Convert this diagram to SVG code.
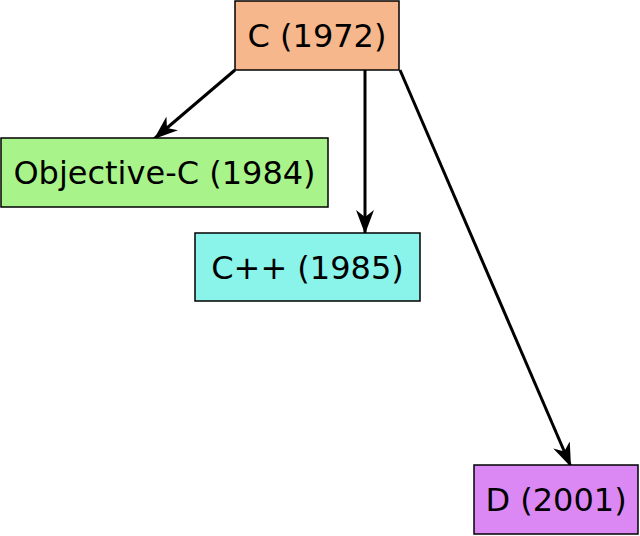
<svg xmlns="http://www.w3.org/2000/svg" width="640" height="536" viewBox="0 0 640 536">
<style>
.box{stroke:#000;stroke-width:1.5}
.lbl{font-family:"DejaVu Sans",sans-serif;font-size:32px;text-anchor:middle;fill:#000}
.edge{stroke:#000;stroke-width:3;fill:none}
</style>
<defs>
<marker id="ah" viewBox="0 0 24 18" refX="24" refY="9" markerWidth="24" markerHeight="18" markerUnits="userSpaceOnUse" orient="auto">
<path d="M0,0 L24,9 L0,18 L7,9 Z" fill="#000"/>
</marker>
</defs>
<rect width="640" height="536" fill="#fff"/>
<g id="connectors">
<line class="edge" x1="235" y1="70" x2="154" y2="139" marker-end="url(#ah)"/>
<line class="edge" x1="365" y1="70" x2="365" y2="234" marker-end="url(#ah)"/>
<line class="edge" x1="400" y1="70" x2="571" y2="467" marker-end="url(#ah)"/>
</g>
<g id="node-c">
<rect class="box" x="235" y="1" width="164" height="69" fill="#f5b78b"/>
<text class="lbl" x="317" y="46.5">C (1972)</text>
</g>
<g id="node-objc">
<rect class="box" x="1" y="138" width="327" height="69" fill="#a8f48a"/>
<text class="lbl" x="164.5" y="183.5">Objective-C (1984)</text>
</g>
<g id="node-cpp">
<rect class="box" x="195" y="233" width="225" height="68" fill="#8af4ea"/>
<text class="lbl" x="307.5" y="278.5">C++ (1985)</text>
</g>
<g id="node-d">
<rect class="box" x="474" y="465" width="164" height="69" fill="#dc88f4"/>
<text class="lbl" x="556" y="510.5">D (2001)</text>
</g>
</svg>
